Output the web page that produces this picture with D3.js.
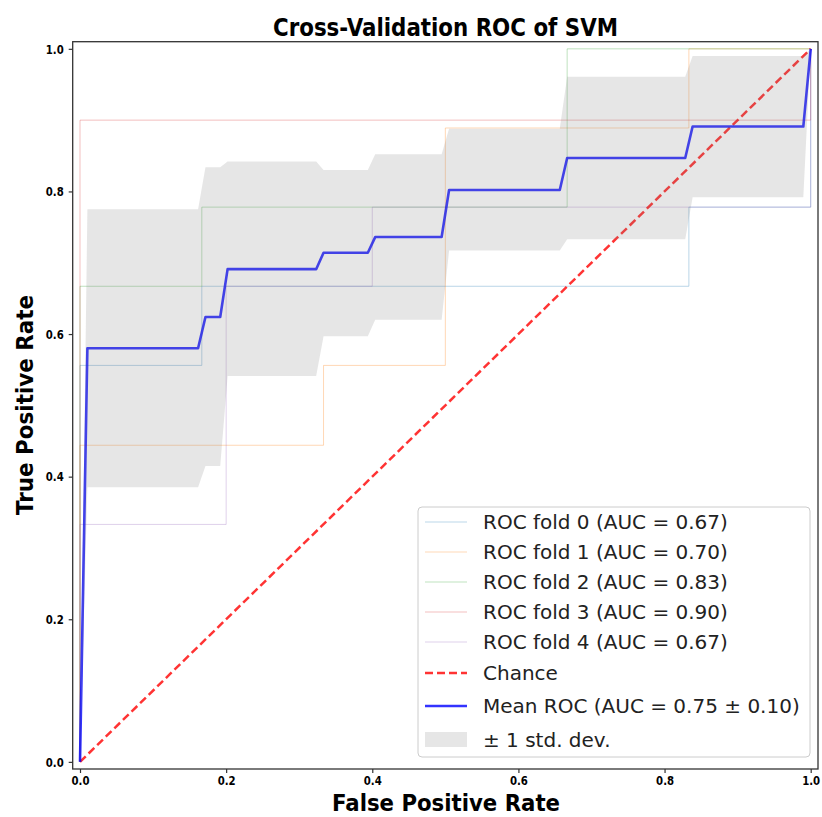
<!DOCTYPE html>
<html>
<head>
<meta charset="utf-8">
<script src="https://cdn.jsdelivr.net/npm/d3@7"></script>
<style>
  html, body { margin: 0; padding: 0; background: #fff; }
  text { font-family: "DejaVu Sans", sans-serif; }
</style>
</head>
<body>
<svg id="chart" width="822" height="817"></svg>
<script>
// ---------------- DATA ----------------
const title = "Cross-Validation ROC of SVM";
const xLabel = "False Positive Rate";
const yLabel = "True Positive Rate";
const tickValues = [0, 0.2, 0.4, 0.6, 0.8, 1.0];

const foldLabels = ["ROC fold 0 (AUC = 0.67)", "ROC fold 1 (AUC = 0.70)", "ROC fold 2 (AUC = 0.83)",
                    "ROC fold 3 (AUC = 0.90)", "ROC fold 4 (AUC = 0.67)"];
const foldColors = ["#1f77b4", "#ff7f0e", "#2ca02c", "#d62728", "#9467bd"];

const fold0Fpr = [0, 0, 0.1667, 0.1667, 0.8333, 0.8333, 1, 1];
const fold0Tpr = [0, 0.556, 0.556, 0.667, 0.667, 0.778, 0.778, 1.0];
const fold1Fpr = [0, 0, 0.3333, 0.3333, 0.5, 0.5, 0.8333, 0.8333, 1];
const fold1Tpr = [0, 0.444, 0.444, 0.556, 0.556, 0.889, 0.889, 1.0, 1.0];
const fold2Fpr = [0, 0, 0.1667, 0.1667, 0.6667, 0.6667, 1];
const fold2Tpr = [0, 0.667, 0.667, 0.778, 0.778, 1.0, 1.0];
const fold3Fpr = [0, 0, 1, 1];
const fold3Tpr = [0, 0.9, 0.9, 1.0];
const fold4Fpr = [0, 0, 0.2, 0.2, 0.4, 0.4, 1, 1];
const fold4Tpr = [0, 0.333, 0.333, 0.667, 0.667, 0.778, 0.778, 1.0];

const chanceX = [0, 1];
const chanceY = [0, 1];

const meanFpr   = [0, 0.0101, 0.1616, 0.1717, 0.1919, 0.2020, 0.3232, 0.3333, 0.3939, 0.4040, 0.4949, 0.5051, 0.6566, 0.6667, 0.8283, 0.8384, 0.9899, 1.0];
const meanTpr   = [0, 0.580, 0.580, 0.624, 0.624, 0.691, 0.691, 0.714, 0.714, 0.736, 0.736, 0.802, 0.802, 0.847, 0.847, 0.891, 0.891, 1.0];
const bandUpper = [0, 0.775, 0.775, 0.834, 0.834, 0.842, 0.842, 0.830, 0.830, 0.852, 0.852, 0.888, 0.888, 0.961, 0.961, 0.990, 0.990, 1.0];
const bandLower = [0, 0.385, 0.385, 0.415, 0.415, 0.541, 0.541, 0.597, 0.597, 0.620, 0.620, 0.717, 0.717, 0.733, 0.733, 0.792, 0.792, 1.0];

const chanceLabel = "Chance";
const meanLabel = "Mean ROC (AUC = 0.75 \u00b1 0.10)";
const bandLabel = "\u00b1 1 std. dev.";

// ---------------- LAYOUT ----------------
const svg = d3.select("#chart");
const frame = { left: 72.7, top: 41.7, right: 818, bottom: 769 };

const x = d3.scaleLinear().domain([-0.01, 1.01]).range([frame.left, frame.right]);
const y = d3.scaleLinear().domain([-0.01, 1.01]).range([frame.bottom, frame.top]);

const folds = [
  [fold0Fpr, fold0Tpr], [fold1Fpr, fold1Tpr], [fold2Fpr, fold2Tpr],
  [fold3Fpr, fold3Tpr], [fold4Fpr, fold4Tpr]
];

const line = d3.line().x(d => x(d[0])).y(d => y(d[1]));
const zip = (a, b) => a.map((v, i) => [v, b[i]]);

const plot = svg.append("g");

// fold curves
folds.forEach((f, i) => {
  plot.append("path")
    .attr("d", line(zip(f[0], f[1])))
    .attr("fill", "none")
    .attr("stroke", foldColors[i])
    .attr("stroke-opacity", 0.3)
    .attr("stroke-width", 1);
});

// chance
plot.append("path")
  .attr("d", line(zip(chanceX, chanceY)))
  .attr("fill", "none")
  .attr("stroke", "red")
  .attr("stroke-opacity", 0.8)
  .attr("stroke-width", 2.5)
  .attr("stroke-dasharray", "8,4");

// mean
plot.append("path")
  .attr("d", line(zip(meanFpr, meanTpr)))
  .attr("fill", "none")
  .attr("stroke", "blue")
  .attr("stroke-opacity", 0.8)
  .attr("stroke-width", 2.6)
  .attr("stroke-linejoin", "round");

// std band
const area = d3.area()
  .x((d, i) => x(meanFpr[i]))
  .y0((d, i) => y(bandLower[i]))
  .y1((d, i) => y(bandUpper[i]));
plot.append("path")
  .attr("d", area(meanFpr))
  .attr("fill", "grey")
  .attr("fill-opacity", 0.2);

// frame
svg.append("rect")
  .attr("x", frame.left).attr("y", frame.top)
  .attr("width", frame.right - frame.left).attr("height", frame.bottom - frame.top)
  .attr("fill", "none").attr("stroke", "#333").attr("stroke-width", 1.3);

// axes
const fmt = d3.format(".1f");
const xAxis = svg.append("g")
  .attr("transform", `translate(0,${frame.bottom})`)
  .call(d3.axisBottom(x).tickValues(tickValues).tickFormat(fmt).tickSize(4).tickPadding(3));
const yAxis = svg.append("g")
  .attr("transform", `translate(${frame.left},0)`)
  .call(d3.axisLeft(y).tickValues(tickValues).tickFormat(fmt).tickSize(4).tickPadding(5));
[xAxis, yAxis].forEach(a => {
  a.select(".domain").remove();
  a.selectAll(".tick line").attr("stroke", "#333").attr("stroke-width", 1.2);
  a.selectAll(".tick text")
    .attr("fill", "#000")
    .style("font-family", "DejaVu Sans")
    .style("font-size", "13px")
    .style("font-weight", "bold")
    .attr("textLength", 18)
    .attr("lengthAdjust", "spacingAndGlyphs");
});

// title & labels
svg.append("text")
  .attr("x", 445.5).attr("y", 35.5)
  .attr("text-anchor", "middle")
  .style("font-size", "24px").style("font-weight", "bold")
  .attr("textLength", 345).attr("lengthAdjust", "spacingAndGlyphs")
  .text(title);

svg.append("text")
  .attr("x", 446).attr("y", 811)
  .attr("text-anchor", "middle")
  .style("font-size", "23px").style("font-weight", "bold")
  .attr("textLength", 228).attr("lengthAdjust", "spacingAndGlyphs")
  .text(xLabel);

svg.append("text")
  .attr("transform", "translate(33,405) rotate(-90)")
  .attr("text-anchor", "middle")
  .style("font-size", "23px").style("font-weight", "bold")
  .attr("textLength", 220).attr("lengthAdjust", "spacingAndGlyphs")
  .text(yLabel);

// legend
const lg = svg.append("g");
lg.append("rect")
  .attr("x", 418).attr("y", 507).attr("width", 392).attr("height", 250)
  .attr("rx", 4).attr("fill", "white").attr("fill-opacity", 0.8)
  .attr("stroke", "#ccc").attr("stroke-width", 1);

const rowsY = [522, 552, 582, 612, 642, 673, 706, 740];
const hx0 = 425, hx1 = 467, tx = 483;
const lfs = "20px";
foldLabels.forEach((lab, i) => {
  lg.append("line").attr("x1", hx0).attr("x2", hx1).attr("y1", rowsY[i]).attr("y2", rowsY[i])
    .attr("stroke", foldColors[i]).attr("stroke-opacity", 0.3).attr("stroke-width", 1);
  lg.append("text").attr("x", tx).attr("y", rowsY[i]).attr("dy", "0.36em")
    .style("font-size", lfs).attr("fill", "#222").text(lab);
});
lg.append("line").attr("x1", hx0).attr("x2", hx1).attr("y1", rowsY[5]).attr("y2", rowsY[5])
  .attr("stroke", "red").attr("stroke-opacity", 0.8).attr("stroke-width", 2.5).attr("stroke-dasharray", "8,4");
lg.append("text").attr("x", tx).attr("y", rowsY[5]).attr("dy", "0.36em")
  .style("font-size", lfs).attr("fill", "#222").text(chanceLabel);
lg.append("line").attr("x1", hx0).attr("x2", hx1).attr("y1", rowsY[6]).attr("y2", rowsY[6])
  .attr("stroke", "blue").attr("stroke-opacity", 0.8).attr("stroke-width", 2.6);
lg.append("text").attr("x", tx).attr("y", rowsY[6]).attr("dy", "0.36em")
  .style("font-size", lfs).attr("fill", "#222").text(meanLabel);
lg.append("rect").attr("x", hx0).attr("y", rowsY[7] - 8).attr("width", hx1 - hx0).attr("height", 15)
  .attr("fill", "grey").attr("fill-opacity", 0.2);
lg.append("text").attr("x", tx).attr("y", rowsY[7]).attr("dy", "0.36em")
  .style("font-size", lfs).attr("fill", "#222").text(bandLabel);
</script>
</body>
</html>
